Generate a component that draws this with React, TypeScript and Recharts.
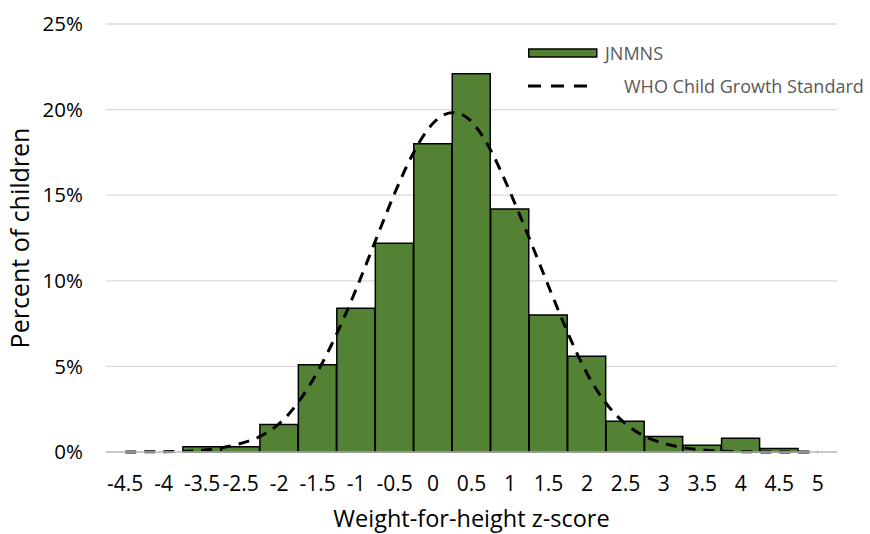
import React from 'react';
import { ComposedChart, Bar, Line, XAxis, YAxis, CartesianGrid, Legend } from 'recharts';

const categories = ['-4.5', '-4', '-3.5', '-2.5', '-2', '-1.5', '-1', '-0.5', '0', '0.5', '1', '1.5', '2', '2.5', '3', '3.5', '4', '4.5', '5'];
const jnmnsValues = [0, 0, 0.3, 0.3, 1.6, 5.1, 8.4, 12.2, 18.0, 22.1, 14.2, 8.0, 5.6, 1.8, 0.9, 0.4, 0.8, 0.2, 0];
const whoValues = [0, 0.02, 0.1, 0.5, 1.65, 4.7, 9.5, 15.1, 19.2, 19.3, 15.2, 9.7, 4.6, 1.65, 0.5, 0.12, 0.02, 0, 0];
const yTicks = [0, 5, 10, 15, 20, 25];

const data = categories.map((z, i) => ({
  z,
  jnmns: jnmnsValues[i],
  who: whoValues[i]
}));

const FONT = '"Open Sans", sans-serif';

const renderLegend = () => (
  <div style={{ fontFamily: FONT, fontSize: 18, color: '#595959', lineHeight: 1 }}>
    <div style={{ display: 'flex', alignItems: 'center', height: 26, marginTop: 2 }}>
      <svg width={77} height={12}>
        <rect x={0.75} y={2} width={68} height={8} fill="#548235" stroke="#000" strokeWidth={1.5} />
      </svg>
      <span>JNMNS</span>
    </div>
    <div style={{ display: 'flex', alignItems: 'center', height: 26, marginTop: 7 }}>
      <svg width={96} height={12}>
        <line x1={0} y1={6} x2={59} y2={6} stroke="#000" strokeWidth={3} strokeDasharray="13 10" />
      </svg>
      <span>WHO Child Growth Standard</span>
    </div>
  </div>
);

const App: React.FC = () => {
  return (
    <div style={{ position: 'absolute', left: 0, top: 0, background: '#fff' }}>
      <ComposedChart
        width={870}
        height={534}
        data={data}
        margin={{ top: 24, right: 33, bottom: 0, left: 0 }}
        barCategoryGap={0}
        style={{ fontFamily: FONT }}
      >
        <CartesianGrid horizontal={true} vertical={false} stroke="#d9d9d9" strokeWidth={1.3} />
        <XAxis
          dataKey="z"
          height={82}
          interval={0}
          tickLine={false}
          axisLine={{ stroke: '#bfbfbf', strokeWidth: 1.5 }}
          tick={{ fill: '#000', fontSize: 21 }}
          tickMargin={18}
          label={{ value: 'Weight-for-height z-score', position: 'insideBottom', offset: 7, fill: '#000', fontSize: 23.5 }}
        />
        <YAxis
          width={106}
          domain={[0, 25]}
          ticks={yTicks}
          tickFormatter={(v: number) => `${v}%`}
          axisLine={false}
          tickLine={false}
          tickMargin={17}
          tick={{ fill: '#000', fontSize: 20.5 }}
          label={{ value: 'Percent of children', angle: -90, position: 'insideLeft', offset: 20, fill: '#000', fontSize: 25, style: { textAnchor: 'middle' } }}
        />
        <Legend
          layout="vertical"
          verticalAlign="middle"
          align="center"
          content={renderLegend}
          wrapperStyle={{ left: 528, top: 38, width: 342 }}
        />
        <Bar dataKey="jnmns" name="JNMNS" fill="#548235" stroke="#000" strokeWidth={1.5} isAnimationActive={false} />
        <Line
          dataKey="who"
          name="WHO Child Growth Standard"
          type="natural"
          stroke="#000"
          strokeWidth={3}
          strokeDasharray="11 8"
          dot={false}
          activeDot={false}
          isAnimationActive={false}
        />
      </ComposedChart>
    </div>
  );
};

export default App;
